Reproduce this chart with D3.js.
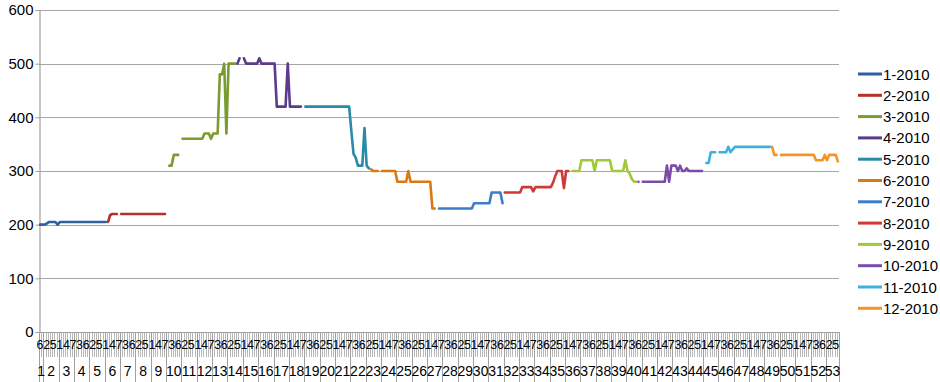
<!doctype html>
<html>
  <head>
    <script src="https://cdnjs.cloudflare.com/ajax/libs/d3/7.8.5/d3.min.js"></script>
    <style>
      body { margin: 0; background: #fff; }
      svg { font-family: "Liberation Sans", Arial, sans-serif; }
      path.series {
        fill: none;
        stroke-width: 2.6;
        stroke-linejoin: round;
        stroke-linecap: round;
      }
      line.grid { stroke: #a6a6a6; stroke-width: 1.2; }
      line.dayTick { stroke: #b8b8b8; stroke-width: 1; }
      line.weekTick { stroke: #a0a0a0; stroke-width: 1; }
      text.lbl { fill: #000; }
    </style>
  </head>
  <body>
    <svg width="940" height="382"></svg>
    <script>
      // series names and colours
      var seriesNames = ["1-2010", "2-2010", "3-2010", "4-2010", "5-2010", "6-2010",
                         "7-2010", "8-2010", "9-2010", "10-2010", "11-2010", "12-2010"];
      var seriesColors = ["#2E5FA0", "#B5302B", "#7A9B30", "#5B3C8A", "#2A8BA8", "#D9790F",
                          "#3B7DCB", "#D03A36", "#9FC93B", "#7A4BA8", "#3DB1DD", "#F79326"];

      // daily values, one array per month (null = no value that day)
      var jan = [200,200,200,202,205,205,205,205,200,205,205,205,205,205,205,205,205,205,205,205,
                 205,205,205,205,205,205,205,205,205,205,205];
      var feb = [205,218,220,220,220,null,220,220,220,220,220,220,220,220,220,220,220,220,220,220,
                 220,220,220,220,220,220,220,null];
      var mar = [310,310,330,330,330,null,360,360,360,360,360,360,360,360,360,360,370,370,370,360,
                 370,370,370,480,480,500,370,500,500,500,500];
      var apr = [500,510,null,510,500,500,500,500,500,500,510,500,500,500,500,500,500,500,420,420,
                 420,420,420,500,420,420,420,420,420,420];
      var may = [null,420,420,420,420,420,420,420,420,420,420,420,420,420,420,420,420,420,420,420,
                 420,420,375,332,325,310,310,310,380,310,305];
      var jun = [303,300,300,300,null,300,300,300,300,300,300,300,280,280,280,280,280,300,280,280,
                 280,280,280,280,280,280,280,280,230,230];
      var jul = [null,230,230,230,230,230,230,230,230,230,230,230,230,230,230,230,230,240,240,240,
                 240,240,240,240,240,260,260,260,260,260,240];
      var aug = [260,260,260,260,260,260,260,260,270,270,270,270,270,262,270,270,270,270,270,270,
                 270,270,278,290,300,300,300,268,300,300,null];
      var sep = [300,300,300,300,320,320,320,320,320,320,300,320,320,320,320,320,320,320,300,300,
                 300,300,300,300,320,300,295,285,280,280];
      var oct = [280,null,280,280,280,280,280,280,280,280,280,280,280,310,280,310,310,310,300,310,
                 300,300,305,300,300,300,300,300,300,300,null];
      var nov = [315,315,335,335,335,null,335,335,335,335,345,335,340,345,345,345,345,345,345,345,
                 345,345,345,345,345,345,345,345,345,345];
      var dec = [345,330,330,null,330,330,330,330,330,330,330,330,330,330,330,330,330,330,330,330,
                 320,320,320,320,330,320,330,330,330,330,318];

      var yTicks = [0, 100, 200, 300, 400, 500, 600];
      var year = 2010;

      var monthly = [jan, feb, mar, apr, may, jun, jul, aug, sep, oct, nov, dec];

      // category list: every day of the year with weekday (Sun = 1) and week number
      var days = [];
      var firstDow = new Date(year, 0, 1).getDay();
      monthly.forEach(function(arr, m) {
        arr.forEach(function(v, d) {
          var idx = days.length;
          var dt = new Date(year, m, d + 1);
          days.push({ i: idx, dow: dt.getDay() + 1, week: Math.floor((idx + firstDow) / 7) + 1 });
        });
      });

      var svg = d3.select("svg");
      var plotL = 39, plotR = 839, plotT = 10, plotB = 332;

      var x = d3.scaleBand().domain(days.map(d => d.i)).range([plotL, plotR]).padding(0);
      var y = d3.scaleLinear().domain([0, 600]).range([plotB, plotT]);
      var bw = x.bandwidth();

      // gridlines
      svg.append("g").selectAll("line").data(yTicks.filter(t => t > 0))
        .enter().append("line")
          .attr("class", "grid")
          .attr("x1", plotL).attr("x2", plotR)
          .attr("y1", d => Math.round(y(d)) + 0.5).attr("y2", d => Math.round(y(d)) + 0.5);

      // y axis
      var yAxis = svg.append("g")
        .attr("transform", "translate(" + (plotL + 0.5) + ",0)")
        .call(d3.axisLeft(y).tickValues(yTicks).tickSize(4).tickPadding(2));
      yAxis.select(".domain").attr("stroke", "#a0a0a0").attr("stroke-width", 1.2);
      yAxis.selectAll(".tick line").attr("stroke", "#a0a0a0");
      yAxis.selectAll("text").attr("font-size", 15).attr("fill", "#000")
        .attr("font-family", "Liberation Sans, Arial, sans-serif");

      // x axis: a tick at every day boundary, longer ones at week boundaries
      var weeks = d3.groups(days, d => d.week).map(g => ({ week: g[0], first: g[1][0].i, last: g[1][g[1].length - 1].i }));

      svg.append("g").selectAll("line").data(days)
        .enter().append("line")
          .attr("class", "dayTick")
          .attr("x1", d => Math.round(x(d.i)) + 0.5).attr("x2", d => Math.round(x(d.i)) + 0.5)
          .attr("y1", plotB).attr("y2", 357);

      var weekEdges = weeks.map(w => x(w.first)).concat([plotR]);
      svg.append("g").selectAll("line").data(weekEdges)
        .enter().append("line")
          .attr("class", "weekTick")
          .attr("x1", d => Math.round(d) + 0.5).attr("x2", d => Math.round(d) + 0.5)
          .attr("y1", plotB).attr("y2", 382);

      svg.append("line")
        .attr("x1", plotL).attr("x2", plotR)
        .attr("y1", plotB + 0.5).attr("y2", plotB + 0.5)
        .attr("stroke", "#a0a0a0").attr("stroke-width", 1.2);

      svg.append("g").selectAll("text").data(days.filter(d => d.i % 3 === 0))
        .enter().append("text")
          .attr("class", "lbl")
          .attr("x", d => x(d.i) + bw / 2)
          .attr("y", 349)
          .attr("text-anchor", "middle")
          .attr("font-size", 12.5)
          .text(d => d.dow);

      svg.append("g").selectAll("text").data(weeks)
        .enter().append("text")
          .attr("class", "lbl")
          .attr("x", d => (x(d.first) + x(d.last) + bw) / 2)
          .attr("y", 376)
          .attr("text-anchor", "middle")
          .attr("font-size", 14)
          .text(d => d.week);

      // month series
      var line = d3.line()
        .defined(d => d.v !== null)
        .x(d => x(d.i) + bw / 2)
        .y(d => y(d.v));

      var offset = 0;
      monthly.forEach(function(arr, m) {
        var pts = arr.map((v, k) => ({ i: offset + k, v: v }));
        offset += arr.length;
        svg.append("path")
          .datum(pts)
          .attr("class", "series")
          .attr("stroke", seriesColors[m])
          .attr("d", line);
      });

      // legend
      var legend = svg.append("g").selectAll("g").data(seriesNames)
        .enter().append("g")
          .attr("transform", (d, k) => "translate(858," + (74 + k * 21.3) + ")");
      legend.append("line")
        .attr("x1", 0).attr("x2", 24).attr("y1", 0).attr("y2", 0)
        .attr("stroke", (d, k) => seriesColors[k]).attr("stroke-width", 3);
      legend.append("text")
        .attr("class", "lbl")
        .attr("x", 25).attr("y", 5.5)
        .attr("font-size", 15)
        .text(d => d);
    </script>
  </body>
</html>
